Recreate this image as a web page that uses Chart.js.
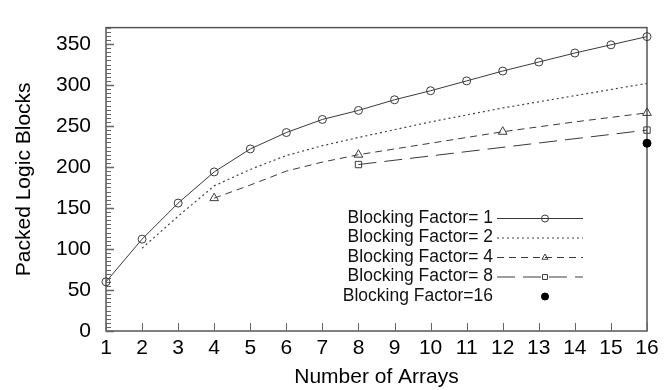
<!DOCTYPE html>
<html>
<head>
<meta charset="utf-8">
<script src="https://cdn.jsdelivr.net/npm/chart.js@4"></script>
<style>
  html, body { margin: 0; padding: 0; background: #fff; }
  #wrap { width: 669px; height: 390px; }
</style>
</head>
<body>
<div id="wrap"><canvas id="arraysChart"></canvas></div>
<script>
// packed logic blocks vs. number of arrays, one series per blocking factor
const bf1X = [1, 2, 3, 4, 5, 6, 7, 8, 9, 10, 11, 12, 13, 14, 15, 16];
const bf1Y = [60, 112, 156, 194, 222, 242, 258, 269, 282, 293, 305, 317, 328, 339, 349, 359];

const bf2X = [2, 3, 4, 5, 6, 7, 8, 10, 12, 14, 16];
const bf2Y = [101, 140, 177, 197, 214, 226, 236, 255, 272, 287, 302];

const bf4X = [4, 5, 6, 7, 8, 10, 12, 14, 16];
const bf4Y = [162, 178, 195, 206, 215, 229, 243, 255, 266];
const bf4Marked = [4, 8, 12, 16];

const bf8X = [8, 16];
const bf8Y = [203, 245];

const bf16X = [16];
const bf16Y = [229];

const legendLabels = ["Blocking Factor= 1", "Blocking Factor= 2", "Blocking Factor= 4", "Blocking Factor= 8", "Blocking Factor=16"];

const yLabelTicks = [0, 50, 100, 150, 200, 250, 300, 350];

const toPoints = (xs, ys) => xs.map((x, i) => ({ x: x, y: ys[i] }));

const FONT = "'Liberation Sans', Arial, Helvetica, sans-serif";
const INK = "#3a3a3a";

// frame and inward tick marks
const frameTicks = {
  id: "frameTicks",
  beforeDatasetsDraw(chart) {
    const { ctx, chartArea: a, scales } = chart;
    ctx.save();
    ctx.strokeStyle = "#555";
    ctx.lineWidth = 1.5;
    ctx.strokeRect(a.left, a.top, a.right - a.left, a.bottom - a.top);

    ctx.lineWidth = 1;
    ctx.strokeStyle = "#666";
    scales.y.ticks.forEach(t => {
      const py = Math.round(scales.y.getPixelForValue(t.value)) + 0.5;
      const major = yLabelTicks.includes(t.value);
      ctx.lineWidth = major ? 1.5 : 1;
      ctx.beginPath();
      ctx.moveTo(a.left, py);
      ctx.lineTo(a.left + (major ? 8 : 5), py);
      ctx.stroke();
    });
    ctx.lineWidth = 1;
    scales.x.ticks.forEach(t => {
      const px = Math.round(scales.x.getPixelForValue(t.value)) + 0.5;
      ctx.beginPath();
      ctx.moveTo(px, a.bottom);
      ctx.lineTo(px, a.bottom - 8);
      ctx.stroke();
    });
    ctx.restore();
  }
};

// legend: right-aligned text followed by a line sample with its marker
const sideLegend = {
  id: "sideLegend",
  afterDraw(chart) {
    const { ctx } = chart;
    const textRight = 493, lineL = 497, lineR = 583, markX = 545;
    const rowTop = 218, rowStep = 19.5;
    ctx.save();
    chart.data.datasets.forEach((ds, i) => {
      const y = rowTop + i * rowStep;
      ctx.fillStyle = "#111";
      ctx.font = "17.5px " + FONT;
      ctx.textAlign = "right";
      ctx.textBaseline = "middle";
      ctx.fillText(legendLabels[i], textRight, y);
      if (ds.showLine !== false) {
        ctx.strokeStyle = ds.borderColor;
        ctx.lineWidth = ds.borderWidth;
        ctx.setLineDash(ds.borderDash || []);
        ctx.beginPath();
        ctx.moveTo(lineL, y + 0.5);
        ctx.lineTo(lineR, y + 0.5);
        ctx.stroke();
        ctx.setLineDash([]);
      }
      if (ds.legendMark) {
        ctx.strokeStyle = ds.borderColor;
        ctx.fillStyle = ds.legendFill || "transparent";
        ctx.lineWidth = 1;
        Chart.helpers.drawPoint(ctx, { pointStyle: ds.legendMark, radius: 3.5, rotation: 0, borderWidth: 1 }, markX, y + 0.5);
        if (ds.legendFill) ctx.fill();
      }
    });
    ctx.restore();
  }
};

new Chart(document.getElementById("arraysChart"), {
  type: "scatter",
  data: {
    datasets: [
      {
        data: toPoints(bf1X, bf1Y),
        showLine: true,
        borderColor: INK,
        borderWidth: 1,
        pointStyle: "circle",
        pointRadius: 4,
        pointBorderWidth: 1,
        pointBackgroundColor: "transparent",
        pointBorderColor: INK,
        legendMark: "circle",
        clip: false
      },
      {
        data: toPoints(bf2X, bf2Y),
        showLine: true,
        borderColor: "#444",
        borderWidth: 1.2,
        borderDash: [2, 3],
        pointRadius: 0,
        clip: false
      },
      {
        data: toPoints(bf4X, bf4Y),
        showLine: true,
        borderColor: INK,
        borderWidth: 1,
        borderDash: [7, 5],
        pointStyle: "triangle",
        pointRadius: ctx => bf4Marked.includes(bf4X[ctx.dataIndex]) ? 5 : 0,
        pointBorderWidth: 1,
        pointBackgroundColor: "transparent",
        pointBorderColor: INK,
        legendMark: "triangle",
        clip: false
      },
      {
        data: toPoints(bf8X, bf8Y),
        showLine: true,
        borderColor: INK,
        borderWidth: 1,
        borderDash: [18, 8],
        pointStyle: "rect",
        pointRadius: 4.5,
        pointBorderWidth: 1,
        pointBackgroundColor: "transparent",
        pointBorderColor: INK,
        legendMark: "rect",
        clip: false
      },
      {
        data: toPoints(bf16X, bf16Y),
        showLine: false,
        borderColor: "#000",
        borderWidth: 1,
        pointStyle: "circle",
        pointRadius: 4,
        pointBackgroundColor: "#000",
        pointBorderColor: "#000",
        legendMark: "circle",
        legendFill: "#000",
        clip: false
      }
    ]
  },
  options: {
    responsive: true,
    maintainAspectRatio: false,
    animation: false,
    layout: { padding: { top: 6, right: 22, left: 0, bottom: 0 } },
    plugins: {
      legend: { display: false },
      tooltip: { enabled: false }
    },
    scales: {
      x: {
        type: "linear",
        min: 1,
        max: 16,
        grid: { display: false, drawTicks: false },
        border: { display: false },
        ticks: {
          stepSize: 1,
          color: "#000",
          font: { family: FONT, size: 21 },
          padding: 5,
          maxRotation: 0
        },
        title: {
          display: true,
          text: "Number of Arrays",
          color: "#000",
          font: { family: FONT, size: 21 },
          padding: { top: 0, bottom: 0 }
        },
        afterFit(scale) { scale.height = 59; }
      },
      y: {
        min: 0,
        max: 370,
        grid: { display: false, drawTicks: false },
        border: { display: false },
        ticks: {
          stepSize: 5,
          autoSkip: false,
          color: "#000",
          font: { family: FONT, size: 21 },
          padding: 15,
          callback: v => (yLabelTicks.includes(v) ? v : "")
        },
        title: {
          display: true,
          text: "Packed Logic Blocks",
          color: "#000",
          font: { family: FONT, size: 21 },
          padding: { top: 12, bottom: 0 }
        },
        afterFit(scale) { scale.width = 106; }
      }
    }
  },
  plugins: [frameTicks, sideLegend]
});
</script>
</body>
</html>
